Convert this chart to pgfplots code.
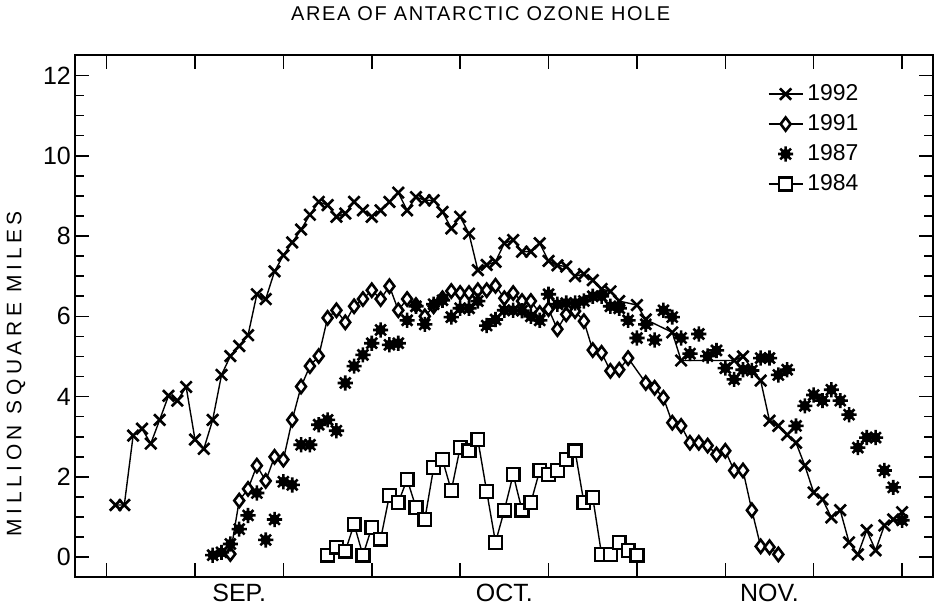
\documentclass[border=0pt]{standalone}
\usepackage{fontspec}
\setmainfont{Liberation Sans}
\usepackage{pgfplots}
\pgfplotsset{compat=1.18}
\usetikzlibrary{calc}
\pgfdeclareplotmark{burst}{%
  \pgfpathmoveto{\pgfqpoint{-\pgfplotmarksize}{0pt}}\pgfpathlineto{\pgfqpoint{\pgfplotmarksize}{0pt}}%
  \pgfpathmoveto{\pgfqpoint{0pt}{-\pgfplotmarksize}}\pgfpathlineto{\pgfqpoint{0pt}{\pgfplotmarksize}}%
  \pgfpathmoveto{\pgfqpoint{-.707\pgfplotmarksize}{-.707\pgfplotmarksize}}\pgfpathlineto{\pgfqpoint{.707\pgfplotmarksize}{.707\pgfplotmarksize}}%
  \pgfpathmoveto{\pgfqpoint{-.707\pgfplotmarksize}{.707\pgfplotmarksize}}\pgfpathlineto{\pgfqpoint{.707\pgfplotmarksize}{-.707\pgfplotmarksize}}%
  \pgfusepathqstroke
  \pgfpathcircle{\pgfpointorigin}{.5\pgfplotmarksize}\pgfusepathqfillstroke}

\begin{document}
\begin{tikzpicture}
\begin{axis}[name=ax,
  width=430bp, height=261.5bp, scale only axis,
  xmin=-3.6, xmax=93.5, ymin=-0.5, ymax=12.5,
  axis line style={line width=1bp},
  tick align=inside, xtick pos=both, ytick pos=both,
  xtick={0,10,...,90}, xticklabels={,,,,,,,,,},
  extra x ticks={15,45,75}, extra x tick labels={SEP.,OCT.,NOV.},
  extra x tick style={major tick length=0pt},
  ytick={0,2,...,12}, minor y tick num=3,
  major tick length=7bp, minor tick length=4.5bp,
  every tick/.style={black, line width=0.8bp},
  /pgf/number format/assume math mode=true,
  ticklabel style={font=\fontsize{12.5bp}{14bp}\selectfont},
  yticklabel style={xshift=1.5bp},
  title={AREA OF ANTARCTIC OZONE HOLE},
  title style={at={(rel axis cs:0.473,1.057)}, anchor=center,
    font=\fontsize{10bp}{12bp}\selectfont\addfontfeature{LetterSpace=8}},
  ylabel={MILLION SQUARE MILES},
  ylabel style={at={(rel axis cs:-0.0686,0.39)}, anchor=center,
    font=\fontsize{10.5bp}{12bp}\selectfont\addfontfeature{LetterSpace=22}},
  legend style={at={(rel axis cs:0.925,0.96)}, anchor=north east, draw=none, fill=none,
    font=\fontsize{11.5bp}{13bp}\selectfont, row sep=1.5bp},
  legend cell align=left,
  clip=false,
]
% 1992
\addplot[black, line width=0.7bp, mark=x, mark size=4bp, mark options={line width=1.3bp}]
coordinates {
(1,1.3)(2,1.3)(3,3.03)(4,3.2)(5,2.83)(6,3.42)(7,4.02)(8,3.9)(9,4.24)(10,2.93)
(11,2.7)(12,3.42)(13,4.54)(14,5.01)(15,5.26)(16,5.53)(17,6.55)(18,6.43)(19,7.12)(20,7.52)
(21,7.84)(22,8.16)(23,8.53)(24,8.85)(25,8.77)(26,8.48)(27,8.56)(28,8.85)(29,8.64)(30,8.48)
(31,8.64)(32,8.85)(33,9.08)(34,8.64)(35,8.97)(36,8.89)(37,8.89)(38,8.6)(39,8.19)(40,8.48)
(41,8.06)(42,7.15)(43,7.28)(44,7.36)(45,7.82)(46,7.9)(47,7.61)(48,7.61)(49,7.82)(50,7.38)
(51,7.27)(52,7.24)(53,7.0)(54,7.05)(55,6.9)(56,6.68)(57,6.62)(58,6.38)(60,6.28)(61,5.92)
(64,5.6)(65,4.9)(71,4.9)(72,5.0)(74,4.4)(75,3.4)(76,3.27)(77,3.05)(78,2.85)(79,2.28)
(80,1.61)(81,1.44)(82,0.99)(83,1.17)(84,0.37)(85,0.07)(86,0.67)(87,0.17)(88,0.79)(89,0.94)
(90,1.12)
};
\addlegendentry{1992}
% 1991
\addplot[black, line width=0.7bp, mark=diamond*, mark size=3.3bp, mark options={fill=white, line width=1.3bp}]
coordinates {
(14,0.08)(15,1.41)(16,1.7)(17,2.28)(18,1.9)(19,2.5)(20,2.43)(21,3.42)(22,4.25)(23,4.76)
(24,5.01)(25,5.96)(26,6.15)(27,5.85)(28,6.25)(29,6.43)(30,6.65)(31,6.43)(32,6.75)(33,6.15)
(34,6.43)(35,6.28)(36,6.0)(37,6.25)(38,6.45)(39,6.63)(40,6.58)(41,6.58)(42,6.65)(43,6.65)
(44,6.76)(45,6.45)(46,6.58)(47,6.38)(48,6.38)(49,6.08)(50,6.18)(51,5.68)(52,6.05)(53,6.13)
(54,5.88)(55,5.16)(56,5.09)(57,4.64)(58,4.67)(59,4.96)(61,4.34)(62,4.22)(63,3.97)(64,3.35)
(65,3.27)(66,2.85)(67,2.85)(68,2.78)(69,2.56)(70,2.65)(71,2.16)(72,2.16)(73,1.17)(74,0.27)
(75,0.25)(76,0.07)
};
\addlegendentry{1991}
% 1987
\addplot[black, only marks, mark=burst, mark size=3.8bp, mark options={line width=1.3bp, fill=black}]
coordinates {
(12,0.05)(13,0.12)(14,0.33)(15,0.7)(16,1.04)(17,1.6)(18,0.43)(19,0.94)(20,1.88)(21,1.8)
(22,2.8)(23,2.8)(24,3.3)(25,3.42)(26,3.15)(27,4.34)(28,4.76)(29,5.04)(30,5.33)(31,5.66)
(32,5.29)(33,5.33)(34,5.9)(35,6.25)(36,5.8)(37,6.3)(38,6.4)(39,5.98)(40,6.2)(41,6.2)
(42,6.38)(43,5.77)(44,5.92)(45,6.15)(46,6.15)(47,6.14)(48,6.0)(49,5.9)(50,6.55)(51,6.3)
(52,6.33)(53,6.33)(54,6.38)(55,6.5)(56,6.5)(57,6.25)(58,6.2)(59,5.9)(60,5.46)(61,5.8)
(62,5.41)(63,6.15)(64,5.98)(65,5.46)(66,5.07)(67,5.56)(68,5.01)(69,5.15)(70,4.71)(71,4.43)
(72,4.67)(73,4.65)(74,4.96)(75,4.96)(76,4.54)(77,4.67)(78,3.27)(79,3.77)(80,4.04)(81,3.9)
(82,4.17)(83,3.9)(84,3.55)(85,2.73)(86,2.98)(87,2.98)(88,2.16)(89,1.74)(90,0.92)
};
\addlegendentry{1987}
% 1984
\addplot[black, line width=0.7bp, mark=square*, mark size=3.2bp, mark options={fill=white, line width=1.2bp}]
coordinates {
(25,0.05)(26,0.25)(27,0.15)(28,0.82)(29,0.05)(30,0.74)(31,0.45)(32,1.54)(33,1.36)(34,1.94)
(35,1.24)(36,0.94)(37,2.23)(38,2.43)(39,1.66)(40,2.73)(41,2.65)(42,2.93)(43,1.64)(44,0.37)
(45,1.17)(46,2.06)(47,1.17)(48,1.36)(49,2.16)(50,2.06)(51,2.16)(52,2.43)(53,2.65)(54,1.36)
(55,1.49)(56,0.07)(57,0.07)(58,0.37)(59,0.17)(60,0.05)
};
\addlegendentry{1984}
\end{axis}
\path ($(ax.south west)+(-36.5bp,-15.5bp)$) rectangle ($(ax.north east)+(3bp,21bp)$);
\end{tikzpicture}
\end{document}
